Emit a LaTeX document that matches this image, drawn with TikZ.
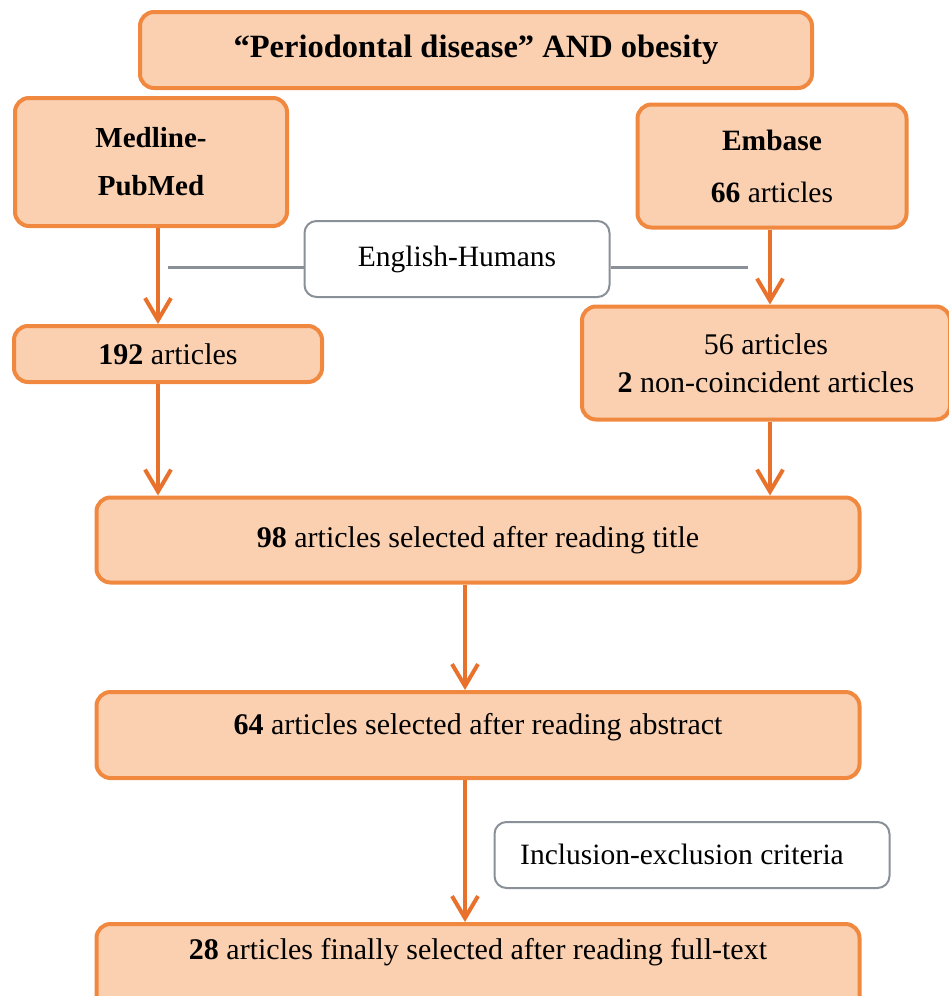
\documentclass[tikz,border=0pt]{standalone}
\usepackage{fontspec}
\setmainfont{Liberation Serif}
\usetikzlibrary{arrows.meta}
\definecolor{boxfill}{HTML}{FAD0B0}
\definecolor{boxdraw}{HTML}{F0883F}
\definecolor{arrowc}{HTML}{E8722C}
\definecolor{grayline}{HTML}{8A9098}
\tikzset{
  obox/.style={draw=boxdraw, fill=boxfill, line width=4pt, rounded corners=14pt,
    inner sep=0pt, align=center, font=\fontsize{30}{38}\selectfont},
  wbox/.style={draw=grayline, fill=white, line width=2pt, rounded corners=12pt,
    inner sep=0pt, align=center, font=\fontsize{29.5}{38}\selectfont},
  flow/.style={draw=arrowc, line width=4pt, -{Straight Barb[length=22pt,width=26pt,line width=4pt]}},
  sepline/.style={draw=grayline, line width=3pt}
}
\begin{document}
\begin{tikzpicture}[x=1pt,y=-1pt]
\useasboundingbox (0,0) rectangle (949,996);
% boxes
\node[obox, minimum width=672, minimum height=76, font=\fontsize{32.5}{38}\selectfont\bfseries] (top) at (476,50)
  {“Periodontal disease” AND obesity};
\node[obox, minimum width=272, minimum height=128, font=\fontsize{29}{48}\selectfont\bfseries] (med) at (151,162)
  {Medline-\\PubMed};
\node[obox, minimum width=269, minimum height=123, font=\fontsize{29.5}{52}\selectfont] (emb) at (772,166)
  {\textbf{Embase}\\\textbf{66} articles};
\node[wbox, minimum width=305, minimum height=76] (eng) at (457,259) {English-Humans};
\node[obox, minimum width=308, minimum height=56] (a192) at (168,354) {\textbf{192} articles};
\node[obox, minimum width=368, minimum height=113] (a56) at (766,363)
  {56 articles\\\textbf{2} non-coincident articles};
\node[obox, minimum width=763, minimum height=85] (a98) at (478,540)
  {\raisebox{6pt}{\textbf{98} articles selected after reading title}};
\node[obox, minimum width=763, minimum height=86] (a64) at (478,735)
  {\raisebox{22pt}{\textbf{64} articles selected after reading abstract}};
\node[wbox, minimum width=395, minimum height=66] (inc) at (692,855)
  {\hspace*{-20pt}\raisebox{2pt}{Inclusion-exclusion criteria}};
\node[obox, minimum width=763, minimum height=100, anchor=north] (a28) at (478,922)
  {\raisebox{50pt}{\textbf{28} articles finally selected after reading full-text}};
% separator lines
\coordinate (gl) at (168,267);
\coordinate (gr) at (748,267);
\draw[sepline] (gl) -- (eng.west |- gl);
\draw[sepline] (eng.east |- gr) -- (gr);
% arrows
\draw[flow] (med.south -| 158,0) -- (a192.north -| 158,0);
\draw[flow] (emb.south -| 770,0) -- (a56.north -| 770,0);
\draw[flow] (a192.south -| 158,0) -- (a98.north -| 158,0);
\draw[flow] (a56.south -| 770,0) -- (a98.north -| 770,0);
\draw[flow] (a98.south -| 465,0) -- (a64.north -| 465,0);
\draw[flow] (a64.south -| 465,0) -- (a28.north -| 465,0);
\end{tikzpicture}
\end{document}
